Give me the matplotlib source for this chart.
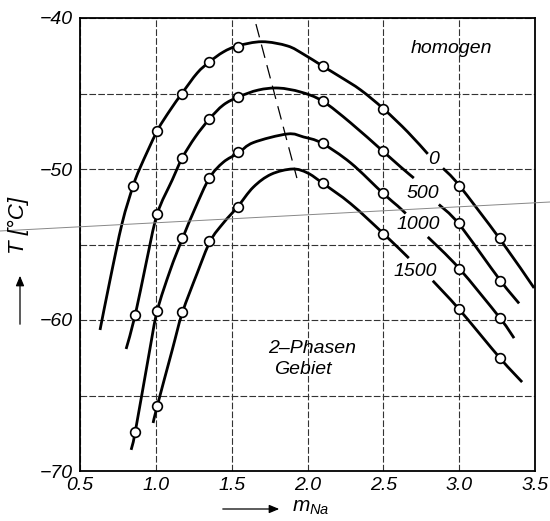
import numpy as np
import matplotlib
matplotlib.use('Agg')
import matplotlib.pyplot as plt
from matplotlib.path import Path
from matplotlib.patches import PathPatch, FancyArrowPatch
from matplotlib.lines import Line2D

plt.rcParams['font.family'] = ['Liberation Sans', 'DejaVu Sans']
plt.rcParams['mathtext.fontset'] = 'custom'
plt.rcParams['mathtext.it'] = 'Liberation Sans:italic'
plt.rcParams['mathtext.rm'] = 'Liberation Sans'

# measured points (open circles)
mx0 = [0.85, 1.01, 1.17, 1.35, 1.54, 2.10, 2.50, 3.00, 3.27]
my0 = [-51.1, -47.5, -45.0, -42.9, -41.9, -43.2, -46.0, -51.1, -54.6]
mx500 = [0.86, 1.01, 1.17, 1.35, 1.54, 2.10, 2.50, 3.00, 3.27]
my500 = [-59.7, -53.0, -49.3, -46.7, -45.2, -45.5, -48.8, -53.6, -57.4]
mx1000 = [0.86, 1.01, 1.17, 1.35, 1.54, 2.10, 2.50, 3.00, 3.27]
my1000 = [-67.4, -59.4, -54.6, -50.6, -48.9, -48.3, -51.6, -56.6, -59.9]
mx1500 = [1.01, 1.17, 1.35, 1.54, 2.10, 2.50, 3.00, 3.27]
my1500 = [-65.7, -59.5, -54.8, -52.5, -50.9, -54.3, -59.3, -62.5]

# drawn curves (nan = break for the label)
cx0 = [0.632, 0.698, 0.778, 0.850, 0.897, 1.009, 1.095, 1.174, 1.273, 1.353, 1.445, 1.538,
       1.700, 1.868, 1.974, 2.099, 2.218, 2.351, 2.503, 2.661, 2.793, np.nan,
       2.893, 2.998, 3.269, 3.494]
cy0 = [-60.66, -57.35, -53.58, -51.13, -49.90, -47.48, -46.09, -44.97, -43.64, -42.91, -42.25, -41.85,
       -41.57, -41.85, -42.40, -43.18, -43.91, -44.77, -46.03, -47.55, -49.00, np.nan,
       -49.95, -51.06, -54.64, -57.88]
cx500 = [0.804, 0.864, 0.936, 1.009, 1.108, 1.174, 1.260, 1.353, 1.445, 1.544, 1.676, 1.809,
         1.954, 2.099, 2.285, 2.496, 2.615, 2.701, np.nan, 2.866, 2.998, 3.269, 3.395]
cy500 = [-61.92, -59.67, -56.23, -52.98, -50.73, -49.27, -47.88, -46.69, -45.76, -45.23, -44.77, -44.64,
         -44.90, -45.50, -46.95, -48.81, -49.87, -50.60, np.nan, -52.35, -53.64, -57.35, -58.90]
cx1000 = [0.837, 0.864, 0.956, 1.009, 1.095, 1.174, 1.260, 1.353, 1.445, 1.544, 1.643, 1.868,
          1.974, 2.093, 2.285, 2.496, 2.595, 2.648, np.nan, 2.793, 2.998, 3.269, 3.362]
cy1000 = [-68.60, -67.42, -62.20, -59.40, -56.70, -54.64, -52.58, -50.60, -49.55, -48.94, -48.25, -47.68,
          -47.88, -48.28, -49.60, -51.59, -52.45, -52.95, np.nan, -54.50, -56.56, -59.87, -61.20]
cx1500 = [0.982, 1.009, 1.108, 1.174, 1.273, 1.359, 1.445, 1.538, 1.643, 1.760, 1.901, 2.000,
          2.099, 2.285, 2.503, 2.668, np.nan, 2.826, 2.998, 3.269, 3.415]
cy1500 = [-66.82, -65.70, -61.99, -59.54, -56.89, -54.77, -53.58, -52.52, -51.20, -50.35, -50.00, -50.26,
          -50.93, -52.30, -54.30, -55.90, np.nan, -57.40, -59.27, -62.52, -64.11]

# line through the maxima
peak_x = [1.66, 1.93]
peak_y = [-40.4, -50.6]

curve_labels = ['0', '500', '1000', '1500']
label_x = [2.83, 2.76, 2.73, 2.71]
label_y = [-49.4, -51.6, -53.7, -56.8]

xticks = [0.5, 1.0, 1.5, 2.0, 2.5, 3.0, 3.5]
yticks = [-40, -45, -50, -55, -60, -65, -70]
ytick_labels = ['\u221240', '', '\u221250', '', '\u221260', '', '\u221270']


def smooth_path(ax, xs, ys):
    # draw each nan-separated piece as a catmull-rom bezier through the traced points
    # (done in display space so the curve looks even on screen)
    xs = np.asarray(xs, float)
    ys = np.asarray(ys, float)
    breaks = np.where(np.isnan(xs))[0]
    starts = [0] + list(breaks + 1)
    ends = list(breaks) + [len(xs)]
    verts, codes = [], []
    for a, b in zip(starts, ends):
        p = ax.transData.transform(np.column_stack([xs[a:b], ys[a:b]]))
        n = len(p)
        verts.append(p[0]); codes.append(Path.MOVETO)
        for i in range(n - 1):
            p0 = p[i - 1] if i > 0 else p[i]
            p3 = p[i + 2] if i + 2 < n else p[i + 1]
            c1 = p[i] + (p[i + 1] - p0) / 6
            c2 = p[i + 1] - (p3 - p[i]) / 6
            verts += [c1, c2, p[i + 1]]
            codes += [Path.CURVE4] * 3
    verts = ax.transData.inverted().transform(np.array(verts))
    ax.add_patch(PathPatch(Path(verts, codes), fill=False, lw=2.0, edgecolor='black',
                           capstyle='butt', joinstyle='round', zorder=3))


fig = plt.figure(figsize=(5.5, 5.21), dpi=100)
ax = fig.add_axes([80/550, 1-471/521, 455/550, 453/521])
ax.set_xlim(0.5, 3.5)
ax.set_ylim(-70, -40)

for cx, cy, mx, my in [(cx0, cy0, mx0, my0), (cx500, cy500, mx500, my500),
                       (cx1000, cy1000, mx1000, my1000), (cx1500, cy1500, mx1500, my1500)]:
    smooth_path(ax, cx, cy)
    ax.plot(mx, my, 'o', ms=7, mfc='white', mec='black', mew=1.2, zorder=4)

ax.plot(peak_x, peak_y, color='black', lw=0.9, dashes=(11, 6), zorder=3)

for t, x, y in zip(curve_labels, label_x, label_y):
    ax.text(x, y, t, fontsize=14, style='italic', ha='center', va='center', zorder=5)

ax.text(2.95, -42.0, 'homogen', fontsize=14, style='italic', ha='center', va='center')
ax.text(2.03, -61.9, '2\u2013Phasen', fontsize=14, style='italic', ha='center', va='center')
ax.text(1.97, -63.3, 'Gebiet', fontsize=14, style='italic', ha='center', va='center')

ax.set_xticks(xticks)
ax.set_xticklabels([f'{v:.1f}' for v in xticks], fontsize=14, style='italic')
ax.set_yticks(yticks)
ax.set_yticklabels(ytick_labels, fontsize=14, style='italic')
ax.tick_params(length=0, pad=5)
ax.tick_params(axis='x', pad=4)
ax.grid(True, color='#333333', lw=0.8, dashes=(6, 2))
for s in ax.spines.values():
    s.set_linewidth(1.3)

# axis captions with arrows
fig.text(18/550, 1-225/521, 'T [°C]', rotation=90, fontsize=16, style='italic', ha='center', va='center')
fig.add_artist(FancyArrowPatch((20/550, 1-327/521), (20/550, 1-273/521), transform=fig.transFigure,
                               arrowstyle='-|>,head_length=6,head_width=2.5', lw=0.9, color='black'))
fig.add_artist(FancyArrowPatch((220/550, 1-509/521), (282/550, 1-509/521), transform=fig.transFigure,
                               arrowstyle='-|>,head_length=6,head_width=2.5', lw=0.9, color='black'))
fig.text(292/550, 1-508/521, r'$m_{Na}$', fontsize=15, ha='left', va='center')

# fold line of the scan
fig.add_artist(Line2D([0, 1], [1-231/521, 1-202/521], transform=fig.transFigure,
                      color='#888888', lw=0.7))

fig.savefig('out.png', dpi=100)
